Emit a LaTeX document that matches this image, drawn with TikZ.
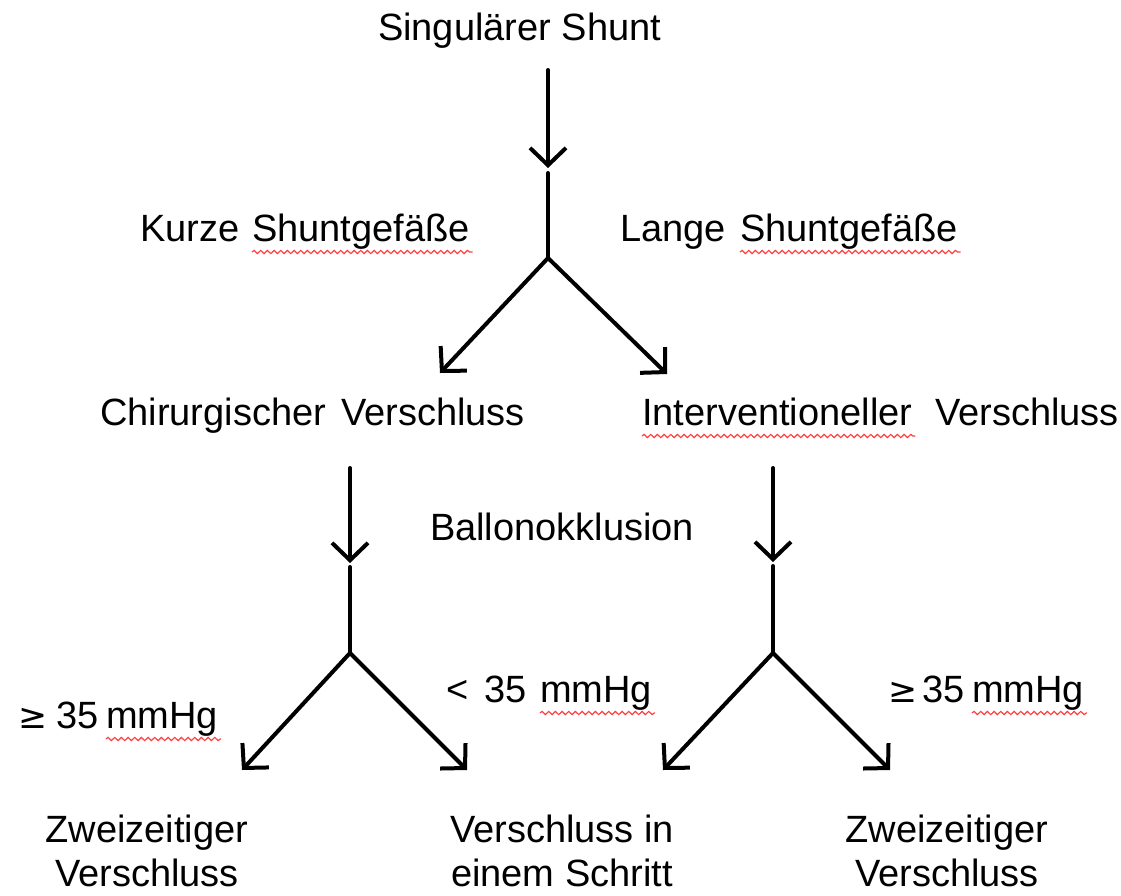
\documentclass[tikz,border=0pt]{standalone}
\usepackage{fontspec}
\setmainfont{Liberation Sans}
\usetikzlibrary{arrows.meta,decorations.pathmorphing,calc}
\begin{document}
\begin{tikzpicture}[x=0.75pt,y=-0.75pt,
  txt/.style={inner sep=0pt,outer sep=0pt,anchor=base west,font=\fontsize{28.5}{34}\selectfont},
  twoline/.style={inner sep=0pt,outer sep=0pt,anchor=north,align=center,font=\fontsize{28.5}{33}\selectfont},
  conn/.style={line width=3pt,line cap=round},
  arr/.style={conn,-{Straight Barb[length=13pt,width=27pt,line width=3pt]}},
  squig/.style={red!75,line width=0.9pt,decorate,decoration={snake,segment length=5pt,amplitude=1.2pt}}]
\useasboundingbox (0,0) rectangle (1121,896);
% texts
\node[txt] (top) at (378,40) {Singulärer Shunt};
\node[txt] (kurze) at (140,241) {Kurze};
\node[txt] (kshunt) at (252,241) {Shuntgefäße};
\node[txt] (lange) at (620,241) {Lange};
\node[txt] (lshunt) at (740,241) {Shuntgefäße};
\node[txt] (chir) at (100,425) {Chirurgischer};
\node[txt] (chirv) at (341,425) {Verschluss};
\node[txt] (interv) at (642,425) {Interventioneller};
\node[txt] (iversch) at (935,425) {Verschluss};
\node[txt] (ballon) at (430,540) {Ballonokklusion};
\node[txt] (gel) at (18,728) {\fontspec{DejaVu Sans}\fontsize{26}{30}\selectfont ≥};
\node[txt] (gelv) at (56,728) {35};
\node[txt] (gelu) at (106,728) {mmHg};
\node[txt] (lt) at (446,702) {<};
\node[txt] (ltv) at (484,702) {35};
\node[txt] (ltu) at (540,702) {mmHg};
\node[txt] (ger) at (888,702) {\fontspec{DejaVu Sans}\fontsize{26}{30}\selectfont ≥};
\node[txt] (gerv) at (922,702) {35};
\node[txt] (geru) at (972,702) {mmHg};
\node[twoline] (z1) at (147,815) {Zweizeitiger\\Verschluss};
\node[twoline] (v1) at (562,815) {Verschluss in\\einem Schritt};
\node[twoline] (z2) at (947,815) {Zweizeitiger\\Verschluss};
% squiggles
\foreach \w in {kshunt,lshunt,interv,gelu,ltu,geru}
  \draw[squig] ($(\w.base west)+(0,11)$) -- ($(\w.base east)+(3,11)$);
% connector points
\coordinate (a0) at (548,70);
\coordinate (a1) at (548,168);
\coordinate (a2) at (548,173);
\coordinate (f0) at (548,258);
\coordinate (t0l) at (440,373);
\coordinate (t0r) at (667,374);
\coordinate (b0) at (350,468);
\coordinate (b1) at (350,563);
\coordinate (b2) at (350,567);
\coordinate (fl) at (350,653);
\coordinate (c0) at (773,468);
\coordinate (c1) at (773,562);
\coordinate (c2) at (773,566);
\coordinate (fr) at (773,653);
\coordinate (tll) at (242,770);
\coordinate (tlr) at (467,770);
\coordinate (trl) at (663,770);
\coordinate (trr) at (890,770);
% connectors
\draw[arr] (a0) -- (a1);
\draw[conn] (a2) -- (f0);
\draw[arr] (f0) -- (t0l);
\draw[arr] (f0) -- (t0r);
\draw[arr] (b0) -- (b1);
\draw[conn] (b2) -- (fl);
\draw[arr] (fl) -- (tll);
\draw[arr] (fl) -- (tlr);
\draw[arr] (c0) -- (c1);
\draw[conn] (c2) -- (fr);
\draw[arr] (fr) -- (trl);
\draw[arr] (fr) -- (trr);
\end{tikzpicture}
\end{document}
